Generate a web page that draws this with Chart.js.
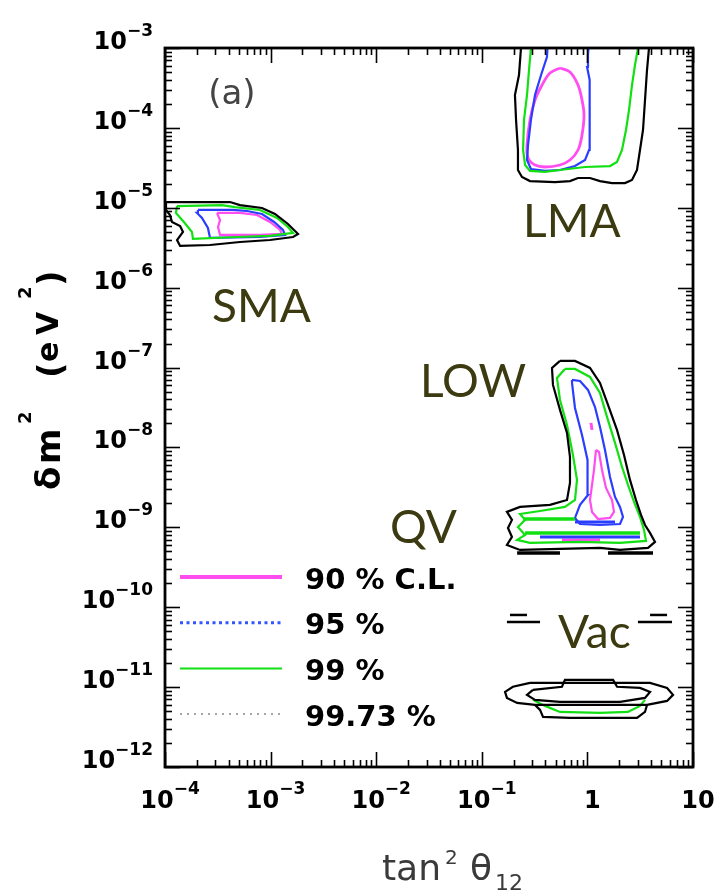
<!DOCTYPE html>
<html>
<head>
<meta charset="utf-8">
<script src="https://cdn.jsdelivr.net/npm/chart.js@4.4.1/dist/chart.umd.min.js"></script>
<style>
  html, body { margin: 0; padding: 0; background: #fff; }
  #wrap { width: 715px; height: 895px; }
</style>
</head>
<body>
<div id="wrap"><canvas id="chart" width="715" height="895"></canvas></div>
<script>
// axis ticks (tan^2 theta12 and delta m^2 in eV^2)
const xTickValues = [1e-4, 1e-3, 1e-2, 1e-1, 1, 10];
const xTickLabels = [["10", "\u22124"], ["10", "\u22123"], ["10", "\u22122"], ["10", "\u22121"], ["1", ""], ["10", ""]];
const yTickValues = [1e-3, 1e-4, 1e-5, 1e-6, 1e-7, 1e-8, 1e-9, 1e-10, 1e-11, 1e-12];
const yTickLabels = [["10", "\u22123"], ["10", "\u22124"], ["10", "\u22125"], ["10", "\u22126"], ["10", "\u22127"],
  ["10", "\u22128"], ["10", "\u22129"], ["10", "\u221210"], ["10", "\u221211"], ["10", "\u221212"]];

// LMA contours [tan2, dm2]
const lma9973 = [[0.240, 1.26e-3], [0.235, 1e-3], [0.225, 4.59e-4], [0.206, 2.58e-4], [0.211, 1.26e-4], [0.220, 5.29e-5],
  [0.220, 2.97e-5], [0.240, 2.43e-5], [0.286, 2.16e-5], [0.493, 2.10e-5], [0.684, 2.16e-5], [0.815, 2.36e-5],
  [1.058, 2.36e-5], [1.316, 2.16e-5], [1.710, 2.04e-5], [2.270, 2.04e-5], [2.645, 2.23e-5], [2.949, 2.97e-5],
  [3.148, 5.29e-5], [3.362, 9.41e-5], [3.512, 2.23e-4], [3.668, 5.30e-4], [3.831, 1e-3], [3.831, 1.26e-3]];
const lma99 = [[0.299, 1.26e-3], [0.292, 1e-3], [0.280, 5.30e-4], [0.268, 2.58e-4], [0.251, 1.26e-4], [0.246, 5.29e-5],
  [0.257, 3.43e-5], [0.286, 2.89e-5], [0.397, 2.81e-5], [0.550, 2.97e-5], [0.950, 3.24e-5], [1.637, 3.33e-5],
  [1.906, 3.74e-5], [2.127, 5.29e-5], [2.320, 9.41e-5], [2.477, 1.67e-4], [2.645, 3.44e-4], [2.823, 6.12e-4],
  [3.014, 1e-3], [3.014, 1.26e-3]];
const lma95 = [[0.423, 1.26e-3], [0.414, 7.71e-4], [0.364, 4.59e-4], [0.319, 2.58e-4], [0.292, 1.26e-4], [0.274, 6.11e-5],
  [0.268, 3.96e-5], [0.292, 3.06e-5], [0.397, 2.89e-5], [0.550, 2.97e-5], [0.763, 3.33e-5], [0.950, 3.96e-5],
  [1.036, 5.29e-5], [1.058, 9.41e-5], [1.058, 2.23e-4], [1.036, 3.98e-4], [0.993, 5.78e-4], [1.013, 8.17e-4],
  [1.036, 1.26e-3]];
const lma90 = [[0.550, 5.62e-4], [0.684, 5.01e-4], [0.815, 3.44e-4], [0.889, 2.23e-4], [0.929, 1.45e-4], [0.889, 8.15e-5],
  [0.815, 5.29e-5], [0.684, 3.96e-5], [0.550, 3.43e-5], [0.397, 3.24e-5], [0.319, 3.43e-5], [0.274, 4.20e-5],
  [0.268, 6.11e-5], [0.286, 1.26e-4], [0.319, 2.23e-4], [0.372, 3.44e-4], [0.442, 4.86e-4], [0.550, 5.62e-4]];

// SMA contours
const sma9973 = [[1.022e-4, 1.18e-5], [4.13e-4, 1.18e-5], [5.13e-4, 1.08e-5], [8.29e-4, 9.94e-6], [1.10e-3, 8.36e-6],
  [1.46e-3, 6.27e-6], [1.82e-3, 4.70e-6], [1.63e-3, 4.31e-6], [9.87e-4, 3.95e-6], [5.13e-4, 3.73e-6], [2.67e-4, 3.42e-6],
  [1.39e-4, 3.33e-6], [1.30e-4, 3.95e-6], [1.48e-4, 4.98e-6], [1.39e-4, 5.92e-6], [1.165e-4, 6.64e-6],
  [1.115e-4, 8.13e-6], [1.022e-4, 9.39e-6], [1.022e-4, 1.18e-5]];
const sma99 = [[1.30e-4, 1.05e-5], [3.47e-4, 1.08e-5], [4.60e-4, 1.02e-5], [7.94e-4, 9.39e-6], [1.15e-3, 7.45e-6],
  [1.46e-3, 5.75e-6], [1.63e-3, 4.84e-6], [9.87e-4, 4.44e-6], [4.81e-4, 4.31e-6], [1.84e-4, 4.07e-6], [1.80e-4, 4.98e-6],
  [1.51e-4, 6.64e-6], [1.27e-4, 8.61e-6], [1.30e-4, 1.05e-5]];
const sma95 = [[2.05e-4, 9.39e-6], [4.41e-4, 9.39e-6], [5.98e-4, 9.12e-6], [8.29e-4, 8.36e-6], [1.08e-3, 6.64e-6],
  [1.31e-3, 5.28e-6], [1.37e-3, 4.57e-6], [7.94e-4, 4.31e-6], [2.67e-4, 4.19e-6], [2.55e-4, 5.59e-6], [2.24e-4, 7.45e-6],
  [2.01e-4, 8.61e-6], [2.05e-4, 9.39e-6]];
const sma90 = [[3.11e-4, 8.61e-6], [5.13e-4, 8.61e-6], [7.43e-4, 8.13e-6], [9.87e-4, 6.64e-6], [1.23e-3, 5.28e-6],
  [1.28e-3, 4.70e-6], [7.94e-4, 4.57e-6], [3.32e-4, 4.57e-6], [3.18e-4, 5.75e-6], [3.32e-4, 7.04e-6], [3.11e-4, 8.61e-6]];

// LOW + QV contours
const low9973 = [[0.550, 1.21e-7], [0.763, 1.21e-7], [1.058, 9.89e-8], [1.316, 6.42e-8], [1.567, 3.40e-8], [1.906, 1.66e-8],
  [2.222, 8.05e-9], [2.531, 3.92e-9], [2.885, 2.20e-9], [3.218, 1.43e-9], [3.512, 1.07e-9], [3.915, 8.51e-10],
  [4.367, 6.57e-10], [3.749, 5.52e-10], [2.035, 5.21e-10], [1.316, 5.52e-10], [0.550, 5.37e-10], [0.230, 5.21e-10],
  [0.173, 6.02e-10], [0.193, 7.58e-10], [0.177, 9.83e-10], [0.193, 1.24e-9], [0.173, 1.56e-9], [0.230, 1.80e-9],
  [0.442, 1.91e-9], [0.641, 2.20e-9], [0.684, 3.59e-9], [0.684, 7.60e-9], [0.641, 1.52e-8], [0.550, 2.95e-8],
  [0.472, 6.06e-8], [0.462, 9.89e-8], [0.550, 1.21e-7]];
const low99 = [[0.613, 9.61e-8], [0.763, 9.61e-8], [1.058, 7.63e-8], [1.316, 4.81e-8], [1.533, 2.41e-8], [1.826, 1.14e-8],
  [2.127, 5.70e-9], [2.424, 3.39e-9], [2.763, 2.08e-9], [3.148, 1.35e-9], [3.436, 9.28e-10], [3.589, 6.76e-10],
  [2.035, 6.38e-10], [0.851, 6.57e-10], [0.286, 6.38e-10], [0.216, 6.96e-10], [0.257, 8.04e-10], [0.220, 1.01e-9],
  [0.257, 1.24e-9], [0.230, 1.47e-9], [0.356, 1.60e-9], [0.613, 1.80e-9], [0.763, 2.20e-9], [0.797, 3.92e-9],
  [0.730, 8.05e-9], [0.641, 1.91e-8], [0.550, 3.93e-8], [0.515, 7.41e-8], [0.613, 9.61e-8]];
const low95 = [[0.715, 7.00e-8], [0.851, 6.80e-8], [1.013, 5.25e-8], [1.180, 3.21e-8], [1.316, 1.80e-8], [1.468, 9.30e-9],
  [1.637, 4.27e-9], [1.826, 2.40e-9], [2.035, 1.80e-9], [2.173, 1.35e-9], [2.035, 1.10e-9], [1.316, 1.07e-9],
  [0.851, 1.10e-9], [0.763, 1.31e-9], [0.851, 1.91e-9], [1.013, 2.54e-9], [1.013, 3.92e-9], [0.993, 6.97e-9],
  [0.889, 1.43e-8], [0.763, 3.12e-8], [0.715, 6.42e-8], [0.715, 7.00e-8]];
const low90 = [[1.206, 9.30e-9], [1.288, 8.78e-9], [1.375, 5.23e-9], [1.500, 3.11e-9], [1.710, 2.20e-9], [1.786, 1.56e-9],
  [1.637, 1.31e-9], [1.260, 1.27e-9], [1.106, 1.56e-9], [1.058, 2.20e-9], [1.106, 3.39e-9], [1.155, 5.23e-9],
  [1.206, 9.30e-9]];
const low90Dot = [[1.08, 2.03e-8], [1.106, 1.66e-8]];
const qvBars9973 = [[[0.216, 4.78e-10], [0.550, 4.78e-10]], [[1.567, 4.78e-10], [4.18, 4.78e-10]]];
const qvStripes99 = [[[0.246, 1.27e-9], [0.763, 1.27e-9]], [[0.257, 8.51e-10], [3.148, 8.51e-10]]];
const qvStripes95 = [[[0.763, 1.17e-9], [1.826, 1.17e-9]], [[0.356, 7.58e-10], [3.148, 7.58e-10]]];
const qvStripe90 = [[0.574, 6.96e-10], [1.316, 6.96e-10]];

// vacuum solutions
const vacDashes9973 = [[[0.185, 8.0e-11], [0.268, 8.0e-11]], [[0.173, 6.55e-11], [0.356, 6.55e-11]],
  [[3.92, 8.0e-11], [5.68, 8.0e-11]], [[3.01, 6.55e-11], [6.33, 6.55e-11]]];
const vacOuter9973 = [[0.286, 1.13e-11], [3.92, 1.13e-11], [5.68, 9.77e-12], [6.47, 7.99e-12], [5.68, 6.72e-12],
  [3.67, 5.99e-12], [0.319, 5.99e-12], [0.216, 6.34e-12], [0.173, 7.32e-12], [0.166, 8.71e-12], [0.197, 1.01e-11],
  [0.286, 1.13e-11]];
const vacInner9973 = [[0.305, 9.23e-12], [0.574, 1.01e-11], [0.613, 1.23e-11], [1.75, 1.23e-11], [1.91, 1.01e-11],
  [3.15, 9.77e-12], [3.92, 8.71e-12], [3.51, 7.32e-12], [2.04, 6.53e-12], [0.550, 6.53e-12], [0.319, 6.92e-12],
  [0.268, 7.99e-12], [0.305, 9.23e-12]];
const vacLower9973 = [[0.319, 5.99e-12], [0.356, 5.18e-12], [0.380, 4.24e-12], [0.684, 4.12e-12], [2.95, 4.12e-12],
  [3.51, 4.89e-12], [3.67, 5.99e-12]];
const vac99 = [[0.305, 6.92e-12], [0.397, 5.82e-12], [0.550, 4.89e-12], [1.32, 4.75e-12], [2.42, 4.89e-12],
  [3.15, 5.82e-12], [3.51, 6.92e-12]];

// text labels on the plot
const regionNames = ["SMA", "LMA", "LOW", "QV", "Vac"];
const regionAnchors = [[2.79e-4, 3.72e-7], [0.246, 4.31e-6], [0.026, 4.29e-8], [0.0135, 6.38e-10], [0.527, 3.10e-11]];
const legendLabels = ["90 % C.L.", "95 %", "99 %", "99.73 %"];

const C90 = "#ff4df0", C95 = "#2b3dff", C99 = "#12e012", C9973 = "#000000";

const toPts = (arr) => arr.map(([x, y]) => ({ x, y }));
const datasets = [];
const addLine = (arr, color, width, extra) => {
  datasets.push(Object.assign({
    data: toPts(arr), borderColor: color, borderWidth: width, showLine: true,
    pointRadius: 0, fill: false, tension: 0,
  }, extra || {}));
};

// black first, coloured on top
[lma9973, sma9973, low9973, vacOuter9973, vacInner9973, vacLower9973].forEach((a) => addLine(a, C9973, 2.2));
qvBars9973.forEach((a) => addLine(a, C9973, 3.5));
vacDashes9973.forEach((a) => addLine(a, C9973, 2.5));
[lma99, sma99, low99, vac99].forEach((a) => addLine(a, C99, 2.2));
qvStripes99.forEach((a) => addLine(a, C99, 3.5));
[lma95, sma95, low95].forEach((a) => addLine(a, C95, 2.2));
qvStripes95.forEach((a) => addLine(a, C95, 3));
addLine(lma90, C90, 2.8, { tension: 0.35 });
[sma90, low90].forEach((a) => addLine(a, C90, 2.2));
addLine(low90Dot, C90, 3);
addLine(qvStripe90, C90, 3);

const decor = {
  id: "decor",
  afterDraw(chart) {
    const { ctx, chartArea: a } = chart;
    const xs = chart.scales.x, ys = chart.scales.y;
    ctx.save();

    // inward tick marks on all four sides
    ctx.strokeStyle = "#000";
    ctx.lineWidth = 1.6;
    const seg = (x1, y1, x2, y2) => { ctx.beginPath(); ctx.moveTo(x1, y1); ctx.lineTo(x2, y2); ctx.stroke(); };
    for (let d = -4; d <= 1; d++) {
      for (let m = 1; m <= 9; m++) {
        const v = m * Math.pow(10, d);
        if (v > 10.0001) break;
        const px = Math.round(xs.getPixelForValue(v)) + 0.5;
        const len = m === 1 ? 15 : 7;
        seg(px, a.bottom, px, a.bottom - len);
        seg(px, a.top, px, a.top + len);
      }
    }
    for (let d = -12; d <= -3; d++) {
      for (let m = 1; m <= 9; m++) {
        const v = m * Math.pow(10, d);
        if (v > 1.0001e-3) break;
        const py = Math.round(ys.getPixelForValue(v)) + 0.5;
        const len = m === 1 ? 15 : 7;
        seg(a.left, py, a.left + len, py);
        seg(a.right, py, a.right - len, py);
      }
    }
    ctx.lineWidth = 2.8;
    ctx.strokeRect(a.left, a.top, a.right - a.left, a.bottom - a.top);

    // tick labels: "10" with exponent
    ctx.fillStyle = "#000";
    ctx.textBaseline = "alphabetic";
    ctx.textAlign = "left";
    const baseFont = "bold 24px 'DejaVu Sans'", expFont = "bold 17px 'DejaVu Sans'";
    yTickValues.forEach((v, i) => {
      const py = ys.getPixelForValue(v);
      const [b, e] = yTickLabels[i];
      ctx.font = expFont;
      const ew = ctx.measureText(e).width;
      ctx.font = baseFont;
      const bw = ctx.measureText(b).width;
      const right = a.left - 12;
      ctx.fillText(b, right - ew - bw, py + 1);
      ctx.font = expFont;
      ctx.fillText(e, right - ew, py - 12);
    });
    xTickValues.forEach((v, i) => {
      const px = xs.getPixelForValue(v);
      const [b, e] = xTickLabels[i];
      ctx.font = expFont;
      const ew = e ? ctx.measureText(e).width : 0;
      ctx.font = baseFont;
      const bw = ctx.measureText(b).width;
      const start = px + 5 - (bw + ew) / 2;
      ctx.fillText(b, start, a.bottom + 41);
      if (e) {
        ctx.font = expFont;
        ctx.fillText(e, start + bw, a.bottom + 27);
      }
    });

    // x axis title
    ctx.fillStyle = "#3a3a3a";
    ctx.font = "36px 'DejaVu Sans'";
    ctx.fillText("tan", 382, 880);
    ctx.font = "20px 'DejaVu Sans'";
    ctx.fillText("2", 445, 864);
    ctx.font = "36px 'DejaVu Sans'";
    ctx.fillText("\u03b8", 470, 880);
    ctx.font = "22px 'DejaVu Sans'";
    ctx.fillText("12", 495, 890);

    // y axis title, rotated; each piece placed along the axis
    ctx.save();
    ctx.rotate(-Math.PI / 2);
    ctx.fillStyle = "#000";
    const yTitle = [
      ["\u03b4", "bold 34px 'DejaVu Sans'", 490, 60],
      ["m", "bold 34px 'DejaVu Sans'", 464, 60],
      ["2", "bold 18px 'DejaVu Sans'", 424, 31],
      ["(", "bold 34px 'DejaVu Sans'", 378, 62],
      ["e", "bold 30px 'DejaVu Sans'", 362, 58],
      ["V", "bold 30px 'DejaVu Sans'", 335, 58],
      ["2", "bold 18px 'DejaVu Sans'", 299, 31],
      [")", "bold 34px 'DejaVu Sans'", 286, 62],
    ];
    yTitle.forEach(([t, f, sy, sx]) => { ctx.font = f; ctx.fillText(t, -sy, sx); });
    ctx.restore();

    // panel tag
    ctx.fillStyle = "#444";
    ctx.font = "34px 'DejaVu Sans'";
    ctx.textAlign = "center";
    ctx.textBaseline = "middle";
    ctx.fillText("(a)", xs.getPixelForValue(4.3e-4), ys.getPixelForValue(2.58e-4));

    // region names
    ctx.textAlign = "left";
    ctx.textBaseline = "alphabetic";
    ctx.fillStyle = "#3b3a10";
    ctx.font = "46px Lato";
    regionNames.forEach((n, i) => {
      const [vx, vy] = regionAnchors[i];
      ctx.fillText(n, xs.getPixelForValue(vx), ys.getPixelForValue(vy));
    });

    // legend
    const styles = [
      { c: C90, w: 4, dash: [] },
      { c: "#3355ff", w: 3, dash: [3, 3.5] },
      { c: C99, w: 2, dash: [] },
      { c: "#888", w: 1.5, dash: [2, 5] },
    ];
    const lx0 = a.left + 15, lx1 = a.left + 117, tx = a.left + 140;
    const ly0 = 577, step = 45.7;
    ctx.font = "bold 29px 'DejaVu Sans'";
    ctx.textBaseline = "middle";
    legendLabels.forEach((lab, i) => {
      const ly = ly0 + i * step;
      const s = styles[i];
      ctx.strokeStyle = s.c;
      ctx.lineWidth = s.w;
      ctx.setLineDash(s.dash);
      seg(lx0, ly, lx1, ly);
      ctx.setLineDash([]);
      ctx.fillStyle = "#000";
      ctx.fillText(lab, tx, ly + 4);
    });
    ctx.restore();
  },
};

new Chart(document.getElementById("chart").getContext("2d"), {
  type: "scatter",
  data: { datasets },
  options: {
    responsive: false,
    animation: false,
    layout: { padding: { top: 48, right: 22, left: 0, bottom: 0 } },
    plugins: { legend: { display: false }, tooltip: { enabled: false } },
    scales: {
      x: {
        type: "logarithmic", min: 1e-4, max: 10,
        ticks: { display: false }, grid: { display: false }, border: { display: false },
        afterFit: (s) => { s.height = 128; },
      },
      y: {
        type: "logarithmic", min: 1e-12, max: 1e-3,
        ticks: { display: false }, grid: { display: false }, border: { display: false },
        afterFit: (s) => { s.width = 165; },
      },
    },
  },
  plugins: [decor],
});
</script>
</body>
</html>
